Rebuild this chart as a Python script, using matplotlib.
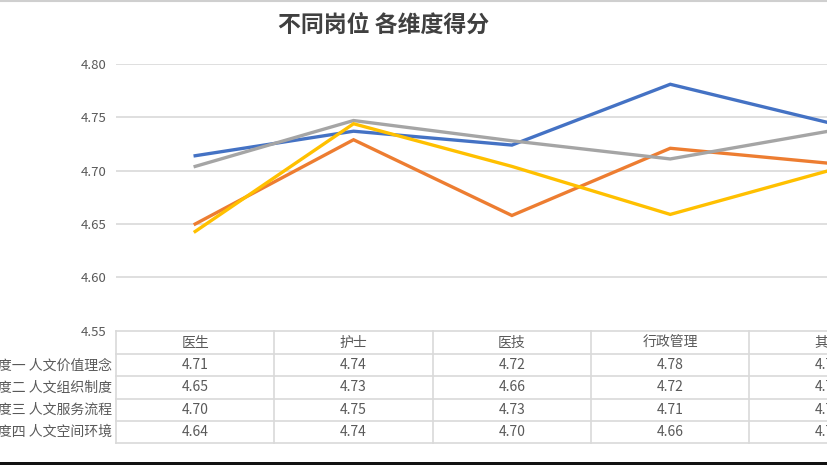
import matplotlib
matplotlib.use("Agg")
import matplotlib.pyplot as plt
from matplotlib.patches import Rectangle

plt.rcParams['font.family'] = ['Noto Sans CJK SC', 'DejaVu Sans']

# ---- data ----
categories = ["医生", "护士", "医技", "行政管理", "其他"]
series_names = ["维度一 人文价值理念", "维度二 人文组织制度", "维度三 人文服务流程", "维度四 人文空间环境"]
dim1 = [4.714, 4.737, 4.724, 4.781, 4.745]
dim2 = [4.650, 4.729, 4.658, 4.721, 4.707]
dim3 = [4.704, 4.747, 4.728, 4.711, 4.737]
dim4 = [4.643, 4.744, 4.704, 4.659, 4.700]
yticks = [4.55, 4.60, 4.65, 4.70, 4.75, 4.80]
title = "不同岗位 各维度得分"

series = [dim1, dim2, dim3, dim4]
colors = ["#4472C4", "#ED7D31", "#A5A5A5", "#FFC000"]
text_color = "#595959"
grid_color = "#D9D9D9"

W, H = 827, 465
fig = plt.figure(figsize=(W / 100, H / 100), dpi=100)

def fx(px):
    return px / W

def fy(py):
    return 1 - py / H

left_px, right_px = 116, 907.8
top_px, bottom_px = 64, 330.7
ax = fig.add_axes([fx(left_px), fy(bottom_px), fx(right_px - left_px), (bottom_px - top_px) / H])
ax.set_xlim(-0.5, len(categories) - 0.5)
ax.set_ylim(yticks[0], yticks[-1])
for s in ax.spines.values():
    s.set_visible(False)
ax.set_xticks([])
ax.set_yticks(yticks)
ax.set_yticklabels([f"{v:.2f}" for v in yticks], color=text_color, fontsize=9.5)
ax.tick_params(axis='y', length=0, pad=7)
for v in yticks[1:]:
    ax.axhline(v, color=grid_color, lw=1.2, zorder=0)

x = list(range(len(categories)))
for vals, c in zip(series, colors):
    ax.plot(x, vals, color=c, lw=2.4, solid_joinstyle='miter', zorder=3)

# title
fig.text(fx(384), fy(25), title, ha='center', va='center', fontsize=16.5,
         fontweight='bold', color="#404040")

# ---- data table ----
row_edges = [330.7, 354.3, 376.3, 398.5, 420.7, 442.9]
col_w = (right_px - left_px) / len(categories)
for i, ry in enumerate(row_edges):
    fig.add_artist(plt.Line2D([fx(left_px), fx(right_px)], [fy(ry), fy(ry)],
                              color=grid_color, lw=1.2))
for j in range(len(categories) + 1):
    cx = left_px + j * col_w
    fig.add_artist(plt.Line2D([fx(cx), fx(cx)], [fy(row_edges[0]), fy(row_edges[-1])],
                              color=grid_color, lw=1.2))

for j, cat in enumerate(categories):
    cx = left_px + (j + 0.5) * col_w
    fig.text(fx(cx), fy((row_edges[0] + row_edges[1]) / 2), cat, ha='center', va='center',
             fontsize=10, color=text_color)
    for i, vals in enumerate(series):
        cy = (row_edges[i + 1] + row_edges[i + 2]) / 2
        fig.text(fx(cx), fy(cy), f"{vals[j]:.2f}", ha='center', va='center',
                 fontsize=10, color=text_color)

for i, name in enumerate(series_names):
    cy = (row_edges[i + 1] + row_edges[i + 2]) / 2
    fig.text(fx(112), fy(cy), name, ha='right', va='center', fontsize=10, color=text_color)

# screenshot edges
fig.add_artist(Rectangle((0, 0), 1, 3.3 / H, transform=fig.transFigure,
                         color="#111111", lw=0))
fig.add_artist(plt.Line2D([0, 1], [1 - 0.8 / H, 1 - 0.8 / H], color="#CFCFCF", lw=1.5))

fig.savefig("out.png", dpi=100)
